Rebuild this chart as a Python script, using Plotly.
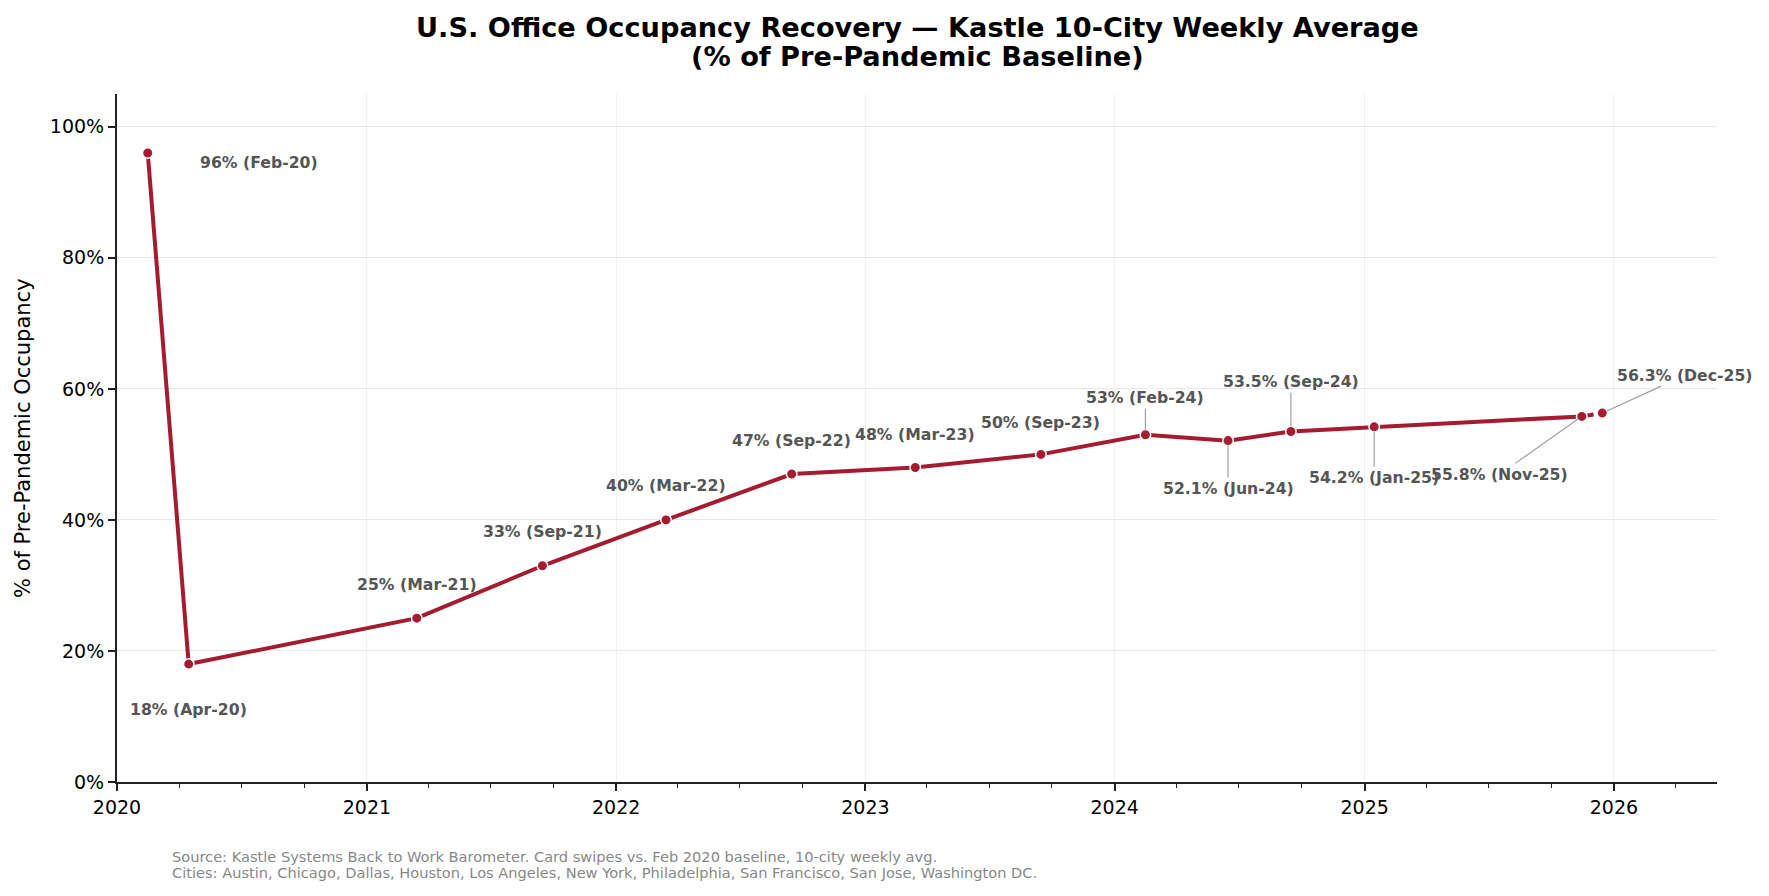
import plotly.graph_objects as go

# ---- data ----
dates = ["2020-02-15", "2020-04-15", "2021-03-15", "2021-09-15", "2022-03-15",
         "2022-09-15", "2023-03-15", "2023-09-15", "2024-02-15", "2024-06-15",
         "2024-09-15", "2025-01-15", "2025-11-15", "2025-12-15"]
values = [96, 18, 25, 33, 40, 47, 48, 50, 53, 52.1, 53.5, 54.2, 55.8, 56.3]
labels = ["96% (Feb-20)", "18% (Apr-20)", "25% (Mar-21)", "33% (Sep-21)", "40% (Mar-22)",
          "47% (Sep-22)", "48% (Mar-23)", "50% (Sep-23)", "53% (Feb-24)", "52.1% (Jun-24)",
          "53.5% (Sep-24)", "54.2% (Jan-25)", "55.8% (Nov-25)", "56.3% (Dec-25)"]
y_ticks = [0, 20, 40, 60, 80, 100]
y_ticktext = ["0%", "20%", "40%", "60%", "80%", "100%"]
x_ticks = ["2020-01-01", "2021-01-01", "2022-01-01", "2023-01-01", "2024-01-01",
           "2025-01-01", "2026-01-01"]
x_ticktext = ["2020", "2021", "2022", "2023", "2024", "2025", "2026"]

title_lines = ["U.S. Office Occupancy Recovery — Kastle 10-City Weekly Average",
               "(% of Pre-Pandemic Baseline)"]
source_lines = ["Source: Kastle Systems Back to Work Barometer. Card swipes vs. Feb 2020 baseline, 10-city weekly avg.",
                "Cities: Austin, Chicago, Dallas, Houston, Los Angeles, New York, Philadelphia, San Francisco, San Jose, Washington DC."]

# label placement: (show_line, dx, dy) in pixels (dy positive = downwards)
placement = [
    (False, 111, 10), (False, 0, 45), (False, 0, -34), (False, 0, -34), (False, 0, -34),
    (False, 0, -34), (False, 0, -33), (False, 0, -32), (True, 0, -37), (True, 0, 48),
    (True, 0, -50), (True, 0, 51), (True, -82, 58), (True, 83, -38),
]

LINE = "#A51C30"
FONT = "DejaVu Sans"

fig = go.Figure()
fig.add_trace(go.Scatter(
    x=dates[:-1], y=values[:-1], mode="lines+markers",
    line=dict(color=LINE, width=4),
    marker=dict(size=10.5, color=LINE, line=dict(color="white", width=1.5)),
    showlegend=False, hoverinfo="x+y",
))
fig.add_trace(go.Scatter(
    x=dates[-2:], y=values[-2:], mode="lines+markers",
    line=dict(color=LINE, width=4, dash="dash"),
    marker=dict(size=10.5, color=LINE, line=dict(color="white", width=1.5)),
    showlegend=False, hoverinfo="x+y",
))

for d, v, lab, (arrow, dx, dy) in zip(dates, values, labels, placement):
    font = dict(family=FONT, size=15.7, color="#555555", weight="bold")
    if arrow:
        fig.add_annotation(x=d, y=v, text=lab, showarrow=True, arrowhead=0,
                           arrowwidth=1.2, arrowcolor="#A0A0A0", ax=dx, ay=dy,
                           standoff=5, font=font)
    else:
        fig.add_annotation(x=d, y=v, text=lab, showarrow=False,
                           xshift=dx, yshift=-dy, font=font)

# title (two lines)
for line_text, ys in zip(title_lines, [67, 38]):
    fig.add_annotation(xref="paper", yref="paper", x=0.5, y=1, yshift=ys,
                       xanchor="center", yanchor="middle", showarrow=False,
                       text="<b>" + line_text + "</b>",
                       font=dict(family=FONT, size=27.2, color="#000000"))

# y-axis title
fig.add_annotation(xref="paper", yref="paper", x=0, y=0.5, xshift=-94,
                   xanchor="center", yanchor="middle",
                   text="% of Pre-Pandemic Occupancy", textangle=-90, showarrow=False,
                   font=dict(family=FONT, size=21, color="#000000"))
# source note
for line_text, ys in zip(source_lines, [-74, -90]):
    fig.add_annotation(xref="paper", yref="paper", x=0, y=0, xshift=53, yshift=ys,
                       xanchor="left", yanchor="middle", align="left", showarrow=False,
                       text=line_text,
                       font=dict(family=FONT, size=14.6, color="#888888"))

fig.update_layout(
    width=1753, height=880,
    margin=dict(l=108.5, r=44, t=86, b=106),
    paper_bgcolor="white", plot_bgcolor="white",
    font=dict(family=FONT, color="#000000"),
)
fig.update_xaxes(
    type="date", range=["2020-01-01", "2026-06-01"],
    tickvals=x_ticks, ticktext=x_ticktext,
    tickfont=dict(family=FONT, size=19, color="#000000"),
    ticks="outside", ticklen=7, tickwidth=1.5, tickcolor="#222222",
    showline=True, linecolor="#222222", linewidth=2, mirror=False,
    showgrid=True, gridcolor="#f0f0f0", gridwidth=1, zeroline=False,
    minor=dict(dtick="M3", tick0="2020-01-01", ticks="outside", ticklen=4,
               tickwidth=1.2, tickcolor="#222222", showgrid=False),
)
fig.update_yaxes(
    range=[0, 105], tickvals=y_ticks, ticktext=y_ticktext,
    tickfont=dict(family=FONT, size=19, color="#000000"),
    ticks="outside", ticklen=7, tickwidth=1.5, tickcolor="#222222",
    showline=True, linecolor="#222222", linewidth=2,
    showgrid=True, gridcolor="#e8e8e8", gridwidth=1.2, zeroline=False,
)

fig.write_html("out.html")
